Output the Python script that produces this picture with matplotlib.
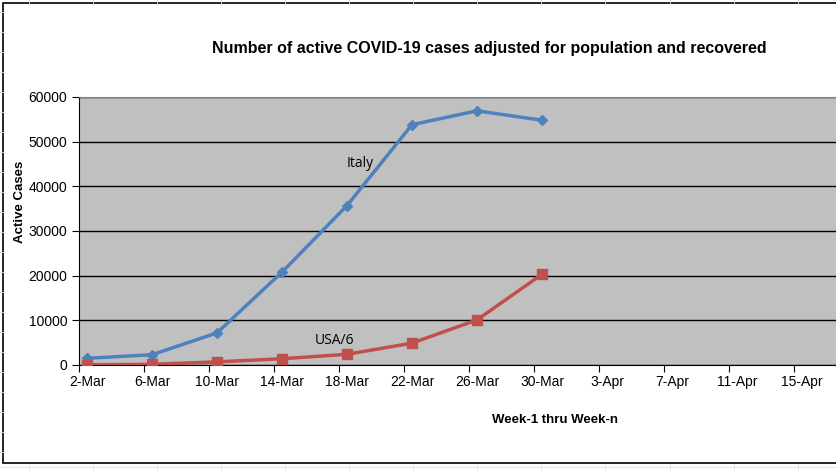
import numpy as np
import matplotlib.pyplot as plt
from matplotlib.patches import Rectangle

plt.rcParams['font.family'] = ['Liberation Sans', 'DejaVu Sans']

# days since 2-Mar for every tick label
tick_labels = ["2-Mar", "6-Mar", "10-Mar", "14-Mar", "18-Mar", "22-Mar",
               "26-Mar", "30-Mar", "3-Apr", "7-Apr", "11-Apr", "15-Apr"]
tick_days = [0, 4, 8, 12, 16, 20, 24, 28, 32, 36, 40, 44]

# data
days = [0, 4, 8, 12, 16, 20, 24, 28]
italy = [1500, 2300, 7200, 20800, 35700, 53800, 56900, 54800]
usa6 = [50, 150, 700, 1400, 2400, 4900, 10100, 20300]

fig = plt.figure(figsize=(8.36, 4.70), dpi=100)

# spreadsheet cells behind the chart
bg = fig.add_axes([0, 0, 1, 1])
bg.set_xlim(0, 836)
bg.set_ylim(470, 0)
bg.axis("off")
for x in np.arange(28.5, 836, 64.1):
    bg.plot([x, x], [0, 3], color="#e0e0e0", lw=0.6)
    bg.plot([x, x], [464, 470], color="#e0e0e0", lw=0.6)
for y in np.arange(12, 464, 20):
    bg.plot([0, 3], [y, y], color="#e0e0e0", lw=0.6)
bg.plot([0, 836], [467, 467], color="#e0e0e0", lw=0.6)
bg.add_patch(Rectangle((3, 3), 900, 460, facecolor="white", edgecolor="black", lw=1.2))

ax = fig.add_axes([79 / 836, (470 - 365) / 470, 1 - 79 / 836, (365 - 97) / 470])
ax.set_facecolor("#c0c0c0")

ax.plot(days, italy, color="#4f81bd", lw=2.5, marker="D", ms=5.5, zorder=3)
ax.plot(days, usa6, color="#c0504d", lw=2.5, marker="s", ms=7, zorder=3)

ax.set_xlim(-0.5, 46.1)
ax.set_ylim(0, 60000)
ax.set_yticks(np.arange(0, 60001, 10000))
ax.yaxis.grid(True, color="black", lw=1)
ax.set_axisbelow(True)

# ticks between the days, labels centred on the days
ax.set_xticks([d - 0.5 for d in tick_days])
ax.set_xticklabels([])
ax.set_xticks(tick_days, minor=True)
ax.set_xticklabels(tick_labels, minor=True)
ax.tick_params(axis="x", which="major", direction="out", length=5, color="black")
ax.tick_params(axis="x", which="minor", length=0, pad=7, labelsize=10)
ax.tick_params(axis="y", direction="out", length=5, labelsize=10)

ax.spines["right"].set_visible(False)
ax.spines["top"].set_color("#808080")
ax.spines["left"].set_color("black")
ax.spines["bottom"].set_color("black")

ax.text(16.8, 44400, "Italy", fontsize=10, family=["Open Sans", "DejaVu Sans"], ha="center")
ax.text(15.2, 4700, "USA/6", fontsize=10, family=["Open Sans", "DejaVu Sans"], ha="center")

fig.text(489 / 836, 1 - 48 / 470, "Number of active COVID-19 cases adjusted for population and recovered",
         ha="center", va="center", fontsize=11.5, fontweight="bold")
fig.text(20 / 836, 1 - 202 / 470, "Active Cases", rotation=90, ha="center", va="center",
         fontsize=9.5, fontweight="bold")
fig.text(555 / 836, 1 - 420 / 470, "Week-1 thru Week-n", ha="center", va="center",
         fontsize=9.5, fontweight="bold")

fig.savefig("out.png", dpi=100)
